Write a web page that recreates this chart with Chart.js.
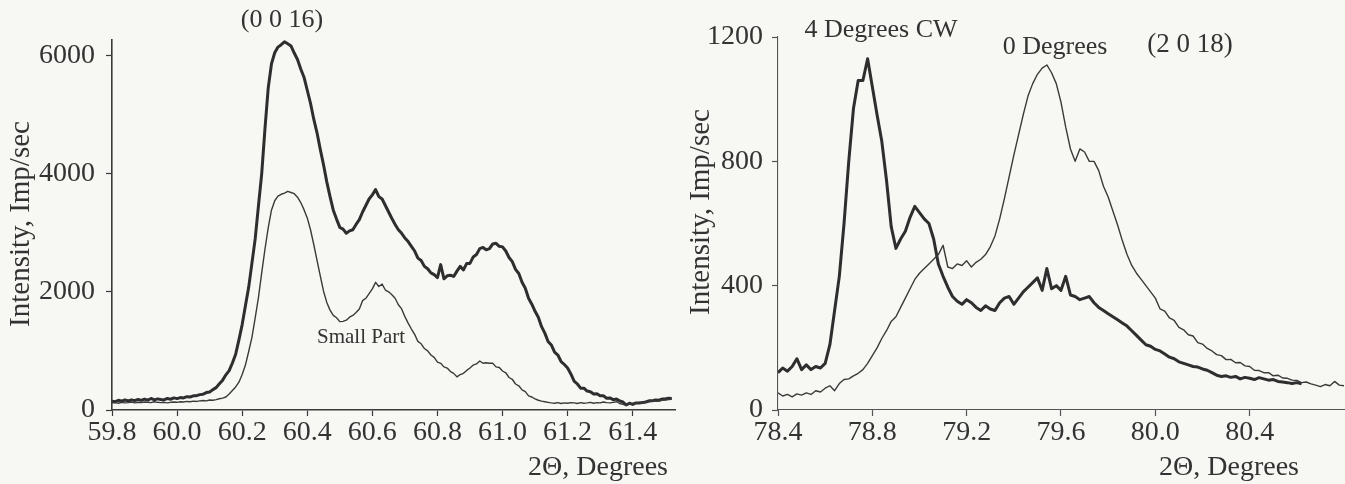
<!DOCTYPE html>
<html><head><meta charset="utf-8">
<script src="https://cdn.jsdelivr.net/npm/chart.js@4.4.1/dist/chart.umd.min.js"></script>
<style>
html,body{margin:0;padding:0;background:#f7f7f4;}
#wrap{position:relative;width:1345px;height:484px;overflow:hidden;background:#f7f7f4;}
canvas{position:absolute;top:0;}
#c1{left:0;}
#c2{left:680px;}
</style></head><body>
<div id="wrap"><canvas id="c1" width="680" height="484"></canvas><canvas id="c2" width="665" height="484"></canvas></div>
<script>
// ---------- Left panel: (0 0 16) reflection ----------
const leftAngles = [
59.80,59.81,59.82,59.83,59.84,59.85,59.86,59.87,59.88,59.89,
59.90,59.91,59.92,59.93,59.94,59.95,59.96,59.97,59.98,59.99,
60.00,60.01,60.02,60.03,60.04,60.05,60.06,60.07,60.08,60.09,
60.10,60.11,60.12,60.13,60.14,60.15,60.16,60.17,60.18,60.19,
60.20,60.21,60.22,60.23,60.24,60.25,60.26,60.27,60.28,60.29,
60.30,60.31,60.32,60.33,60.34,60.35,60.36,60.37,60.38,60.39,
60.40,60.41,60.42,60.43,60.44,60.45,60.46,60.47,60.48,60.49,
60.50,60.51,60.52,60.53,60.54,60.55,60.56,60.57,60.58,60.59,
60.60,60.61,60.62,60.63,60.64,60.65,60.66,60.67,60.68,60.69,
60.70,60.71,60.72,60.73,60.74,60.75,60.76,60.77,60.78,60.79,
60.80,60.81,60.82,60.83,60.84,60.85,60.86,60.87,60.88,60.89,
60.90,60.91,60.92,60.93,60.94,60.95,60.96,60.97,60.98,60.99,
61.00,61.01,61.02,61.03,61.04,61.05,61.06,61.07,61.08,61.09,
61.10,61.11,61.12,61.13,61.14,61.15,61.16,61.17,61.18,61.19,
61.20,61.21,61.22,61.23,61.24,61.25,61.26,61.27,61.28,61.29,
61.30,61.31,61.32,61.33,61.34,61.35,61.36,61.37,61.38,61.39,
61.40,61.41,61.42,61.43,61.44,61.45,61.46,61.47,61.48,61.49,
61.50,61.51,61.52];
const leftFullSample = [
150,140,165,148,170,152,172,158,178,162,
185,168,195,172,188,178,170,195,182,205,
192,210,205,225,220,240,242,260,268,295,
305,345,378,445,505,595,665,795,945,1185,
1445,1765,2075,2485,2895,3455,3995,4755,5445,5855,
6045,6140,6180,6230,6195,6160,6040,5930,5770,5630,
5410,5190,4920,4690,4410,4150,3860,3610,3380,3230,
3090,3060,2990,3030,3050,3140,3220,3350,3460,3570,
3640,3730,3610,3570,3460,3350,3240,3140,3050,2990,
2910,2850,2770,2690,2570,2530,2430,2390,2320,2290,
2240,2460,2220,2270,2280,2260,2350,2430,2370,2480,
2480,2590,2630,2730,2750,2710,2730,2810,2820,2770,
2760,2690,2580,2510,2380,2310,2160,2060,1890,1790,
1670,1570,1410,1300,1160,1100,980,930,820,770,
710,610,490,440,370,370,320,310,270,275,
240,240,200,205,175,185,155,135,85,115,
95,120,120,125,135,155,155,170,165,185,
185,200,195];
const leftSmallPart = [
120,125,115,130,120,125,135,120,130,125,
135,130,125,140,130,125,130,120,130,135,
130,140,135,145,140,150,145,155,160,155,
170,165,175,190,200,220,270,330,390,470,
600,760,990,1230,1560,1900,2320,2720,3080,3380,
3540,3620,3650,3670,3700,3680,3660,3600,3510,3390,
3250,3050,2800,2530,2270,2010,1820,1690,1600,1560,
1495,1500,1520,1570,1600,1650,1710,1850,1890,1970,
2050,2160,2090,2130,2030,2000,1950,1890,1780,1710,
1580,1470,1370,1280,1160,1120,1040,1000,930,890,
810,790,730,710,650,620,560,600,620,670,
710,760,780,830,790,800,790,790,730,720,
660,630,550,520,440,410,340,310,240,220,
190,165,150,140,130,120,115,125,110,120,
115,125,120,110,125,115,120,130,115,125,
120,135,125,120,130,140,110,95,80,100,
110,120,130,115,130,140,150,155,150,165,
170,175,180];
const leftXTicks = [59.8,60.0,60.2,60.4,60.6,60.8,61.0,61.2,61.4];
const leftYTicks = [0,2000,4000,6000];

// ---------- Right panel: (2 0 18) reflection ----------
const rightAngles = [
78.40,78.42,78.44,78.46,78.48,78.50,78.52,78.54,78.56,78.58,
78.60,78.62,78.64,78.66,78.68,78.70,78.72,78.74,78.76,78.78,
78.80,78.82,78.84,78.86,78.88,78.90,78.92,78.94,78.96,78.98,
79.00,79.02,79.04,79.06,79.08,79.10,79.12,79.14,79.16,79.18,
79.20,79.22,79.24,79.26,79.28,79.30,79.32,79.34,79.36,79.38,
79.40,79.42,79.44,79.46,79.48,79.50,79.52,79.54,79.56,79.58,
79.60,79.62,79.64,79.66,79.68,79.70,79.72,79.74,79.76,79.78,
79.80,79.82,79.84,79.86,79.88,79.90,79.92,79.94,79.96,79.98,
80.00,80.02,80.04,80.06,80.08,80.10,80.12,80.14,80.16,80.18,
80.20,80.22,80.24,80.26,80.28,80.30,80.32,80.34,80.36,80.38,
80.40,80.42,80.44,80.46,80.48,80.50,80.52,80.54,80.56,80.58,
80.60,80.62,80.64,80.66,80.68,80.70,80.72,80.74,80.76,80.78,
80.80];
const right4DegCW = [
120,135,125,140,165,130,145,130,140,135,
150,210,320,430,600,800,970,1060,1060,1130,
1040,950,865,740,590,520,550,575,620,655,
635,615,600,550,470,430,395,365,350,340,
355,345,330,320,335,325,320,345,360,365,
340,360,380,395,410,425,385,455,390,400,
385,430,370,365,355,360,365,345,330,320,
310,300,290,280,270,255,240,225,210,205,
195,190,180,170,165,155,150,145,140,138,
132,128,120,112,108,110,105,108,100,105,
102,98,104,100,96,98,92,90,88,85,
88,84];
const right0Deg = [
55,45,50,42,52,48,55,50,62,58,
70,78,62,85,98,100,110,118,130,150,
175,200,230,255,285,300,330,360,390,420,
440,455,470,485,500,530,460,455,470,465,
480,460,475,485,500,525,560,615,680,750,
820,885,950,1010,1050,1080,1100,1110,1085,1050,
990,910,840,800,840,830,800,800,770,720,
685,640,595,545,500,465,440,420,400,380,
360,325,318,296,288,266,258,242,238,217,
212,198,190,178,175,162,163,152,153,142,
140,128,127,120,120,110,112,103,102,96,
95,88,90,84,80,75,82,78,92,80,
78];
const rightXTicks = [78.4,78.8,79.2,79.6,80.0,80.4];
const rightYTicks = [0,400,800,1200];

// ---------- drawing ----------
const FAMILY = '"Liberation Serif","Times New Roman",serif';
const INK = '#333333';
function pairs(xs, ys){ return ys.map((y,i)=>({x:xs[i], y:y})); }

function textPlugin(items){
  return {
    id:'texts',
    afterDraw(chart){
      const ctx = chart.ctx;
      ctx.save();
      ctx.fillStyle = INK;
      ctx.textAlign = 'center';
      ctx.textBaseline = 'middle';
      for (const t of items){
        ctx.font = t.size + 'px ' + FAMILY;
        if (t.rot){
          ctx.save(); ctx.translate(t.x, t.y); ctx.rotate(-Math.PI/2);
          ctx.fillText(t.text, 0, 0); ctx.restore();
        } else {
          ctx.fillText(t.text, t.x, t.y);
        }
      }
      ctx.restore();
    }
  };
}

function buildChart(el, o){
  return new Chart(el, {
    type:'line',
    data:{ datasets: o.series.map(s=>({
      data: pairs(o.angles, s.values),
      borderColor: s.color, borderWidth: s.width,
      pointRadius:0, tension:0, fill:false, borderJoinStyle:'round'
    }))},
    options:{
      responsive:false, animation:false, devicePixelRatio:1,
      layout:{ padding:o.padding },
      plugins:{ legend:{display:false}, tooltip:{enabled:false} },
      scales:{
        x:{
          type:'linear', min:o.xMin, max:o.xMax,
          afterFit(s){ s.height = o.xAxisHeight; },
          afterBuildTicks(s){ s.ticks = o.xTicks.map(v=>({value:v})); },
          ticks:{ callback:v=>Number(v).toFixed(1), autoSkip:false, maxRotation:0,
                  padding:0, color:INK, font:{family:FAMILY, size:o.tickSize} },
          grid:{ drawOnChartArea:false, drawTicks:true, tickLength:6, tickColor:o.axisColor, tickWidth:1.2 },
          border:{ color:o.axisColor, width:o.axisWidth }
        },
        y:{
          type:'linear', min:0, max:o.yMax,
          afterFit(s){ s.width = o.yAxisWidth; },
          afterBuildTicks(s){ s.ticks = o.yTicks.map(v=>({value:v})); },
          ticks:{ callback:v=>String(v), autoSkip:false, padding:o.yTickPad,
                  color:INK, font:{family:FAMILY, size:o.tickSize} },
          grid:{ drawOnChartArea:false, drawTicks:true, tickLength:6, tickColor:o.axisColor, tickWidth:1.2 },
          border:{ color:o.axisColor, width:o.axisWidth }
        }
      }
    },
    plugins:[textPlugin(o.texts)]
  });
}

buildChart(document.getElementById('c1'), {
  angles:leftAngles,
  series:[
    {values:leftSmallPart, color:'#3a3a3a', width:1.4},
    {values:leftFullSample, color:'#2e2e2e', width:3}
  ],
  xMin:59.8, xMax:61.53, yMax:6260,
  xTicks:leftXTicks, yTicks:leftYTicks,
  padding:{left:0, right:5, top:40, bottom:0},
  xAxisHeight:74, yAxisWidth:112, yTickPad:11, tickSize:28,
  axisColor:'#3a3a3a', axisWidth:1.6,
  texts:[
    {text:'(0 0 16)', x:282, y:20, size:26},
    {text:'Small Part', x:361, y:337, size:21},
    {text:'2\u0398, Degrees', x:598, y:468, size:28},
    {text:'Intensity, Imp/sec', x:21, y:224, size:29, rot:true}
  ]
});

buildChart(document.getElementById('c2'), {
  angles:rightAngles,
  series:[
    {values:right0Deg, color:'#3a3a3a', width:1.4},
    {values:right4DegCW, color:'#2e2e2e', width:3}
  ],
  xMin:78.4, xMax:80.8, yMax:1200,
  xTicks:rightXTicks, yTicks:rightYTicks,
  padding:{left:0, right:1, top:37, bottom:0},
  xAxisHeight:74, yAxisWidth:98, yTickPad:9, tickSize:28,
  axisColor:'#555555', axisWidth:1.1,
  texts:[
    {text:'4 Degrees CW', x:201, y:30, size:26},
    {text:'0 Degrees', x:375, y:47, size:26},
    {text:'(2 0 18)', x:510, y:45, size:27},
    {text:'2\u0398, Degrees', x:549, y:468, size:28},
    {text:'Intensity, Imp/sec', x:21, y:212, size:29, rot:true}
  ]
});
</script>
</body></html>
